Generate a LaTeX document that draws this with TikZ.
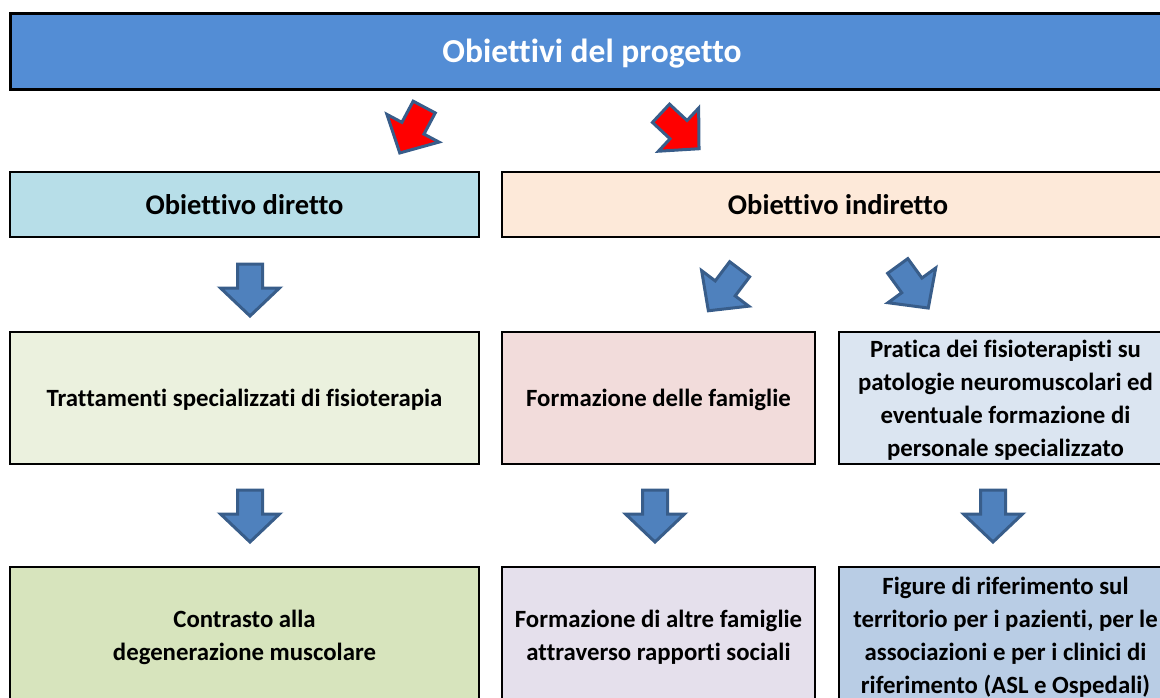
\documentclass[tikz,border=0pt]{standalone}
\usepackage{fontspec}
\setmainfont[Ligatures=NoCommon]{Carlito}
\definecolor{titleblue}{RGB}{83,141,213}
\definecolor{dirc}{RGB}{183,222,232}
\definecolor{indc}{RGB}{253,233,217}
\definecolor{trac}{RGB}{235,241,222}
\definecolor{famc}{RGB}{242,220,219}
\definecolor{prac}{RGB}{219,229,241}
\definecolor{conc}{RGB}{215,228,189}
\definecolor{altc}{RGB}{229,224,236}
\definecolor{figc}{RGB}{185,205,229}
\definecolor{arrfill}{RGB}{79,129,189}
\definecolor{arrline}{RGB}{56,93,138}
\begin{document}
\begin{tikzpicture}[x=1pt,y=-1pt,
  box/.style={draw=black, line width=2.4pt, inner sep=0pt, align=center, text depth=0pt, font=\bfseries\fontsize{24.8}{33}\selectfont},
  headbox/.style={box, font=\bfseries\fontsize{28.5}{32}\selectfont},
  barrow/.pic={\draw[pic actions] (-12.5,-26)--(12.5,-26)--(12.5,-2)--(29.5,-2)--(0,26)--(-29.5,-2)--(-12.5,-2)--cycle;},
  bluearr/.style={fill=arrfill, draw=arrline, line width=3pt, line join=miter},
  redarr/.style={fill=red, draw=arrline, line width=3pt, line join=miter}]
\useasboundingbox (0,0) rectangle (1160,697);
\clip (0,0) rectangle (1160,697);
% boxes
\node[box, line width=3pt, fill=titleblue, text=white, minimum width=1164pt, minimum height=76pt, font=\bfseries\fontsize{33.5}{36}\selectfont] (title) at (592,51) {Obiettivi del progetto};
\node[headbox, fill=dirc, minimum width=469pt, minimum height=65pt] (dir) at (244.5,204.5) {Obiettivo diretto};
\node[headbox, fill=indc, minimum width=672pt, minimum height=65pt] (ind) at (838,204.5) {Obiettivo indiretto};
\node[box, fill=trac, minimum width=469pt, minimum height=132pt] (tra) at (244.5,398) {Trattamenti specializzati di fisioterapia};
\node[box, fill=famc, minimum width=313pt, minimum height=132pt] (fam) at (658.5,398) {Formazione delle famiglie};
\node[box, fill=prac, minimum width=333pt, minimum height=132pt] (pra) at (1005.5,398) {Pratica dei fisioterapisti su\\patologie neuromuscolari ed\\eventuale formazione di\\personale specializzato};
\node[box, fill=conc, minimum width=469pt, minimum height=136pt] (con) at (244.5,635) {Contrasto alla\\degenerazione muscolare};
\node[box, fill=altc, minimum width=313pt, minimum height=136pt] (alt) at (658.5,635) {Formazione di altre famiglie\\attraverso rapporti sociali};
\node[box, fill=figc, minimum width=333pt, minimum height=136pt] (fig) at (1005.5,635) {Figure di riferimento sul\\territorio per i pazienti, per le\\associazioni e per i clinici di\\riferimento (ASL e Ospedali)};
% block arrows
\pic[redarr, rotate=-28] at (412,130) {barrow};
\pic[redarr, rotate=47] at (680,131) {barrow};
\pic[bluearr] at (250,290) {barrow};
\pic[bluearr, rotate=-37] at (724,290) {barrow};
\pic[bluearr, rotate=36] at (913,287) {barrow};
\pic[bluearr] at (250,516) {barrow};
\pic[bluearr] at (655,516) {barrow};
\pic[bluearr] at (993,516) {barrow};
\end{tikzpicture}
\end{document}
